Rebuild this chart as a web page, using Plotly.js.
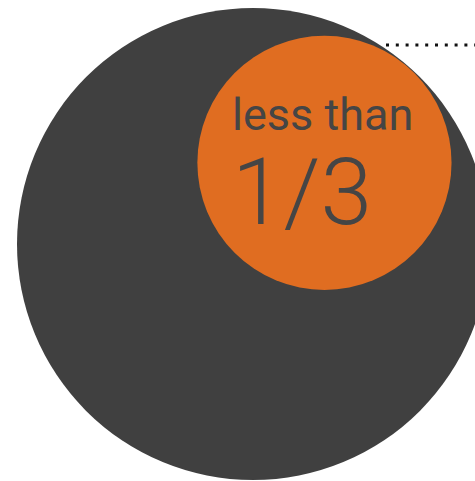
<!DOCTYPE html>
<html>
<head>
<meta charset="utf-8">
<script src="https://cdn.plot.ly/plotly-3.0.1.min.js"></script>
<style>
  html, body { margin: 0; padding: 0; background: #ffffff; }
  #chart { width: 475px; height: 481px; }
</style>
</head>
<body>
<div id="chart"></div>
<script>
// Share of the whole represented by each circle (areas)
const groups = ["All", "Share"];
const areaShares = [1.0, 0.29];
const labelTop = "less than";
const labelValue = "1/3";

// Layout geometry (in plot units = pixels)
const W = 475, H = 481;
const bigCenter = { x: 253, y: 244 };
const bigRadius = 236;
const tangentAngleDeg = 49;       // direction of the inner circle from the big centre
const leaderY = 45;
const leaderX0 = 386;

const colors = { whole: "#404040", part: "#E06D21", text: "#454545", leader: "#111111" };

// Radii scale with the square root of the area share
const radii = areaShares.map(a => bigRadius * Math.sqrt(a / areaShares[0]));
const rSmall = radii[1];
const ang = tangentAngleDeg * Math.PI / 180;
const smallCenter = {
  x: bigCenter.x + (radii[0] - rSmall) * Math.cos(ang),
  y: bigCenter.y - (radii[0] - rSmall) * Math.sin(ang) + 1
};

const circleShape = (c, r, fill) => ({
  type: "circle", xref: "x", yref: "y",
  x0: c.x - r, x1: c.x + r, y0: c.y - r, y1: c.y + r,
  fillcolor: fill, line: { width: 0 }, layer: "below"
});

const shapes = [
  circleShape(bigCenter, radii[0], colors.whole),
  circleShape(smallCenter, rSmall, colors.part),
  {
    type: "line", xref: "x", yref: "y",
    x0: leaderX0, x1: W + 5, y0: leaderY, y1: leaderY,
    line: { color: colors.leader, width: 3, dash: "3px,6.8px" }
  }
];

const textX = 230;
const annotations = [
  {
    x: textX, y: 114, xref: "x", yref: "y", xanchor: "left", yanchor: "middle",
    text: labelTop, showarrow: false,
    font: { family: "Roboto, sans-serif", size: 45, weight: 400, color: colors.text }
  },
  {
    x: textX, y: 192, xref: "x", yref: "y", xanchor: "left", yanchor: "middle",
    text: labelValue, showarrow: false,
    font: { family: "Roboto, sans-serif", size: 93, weight: 300, color: colors.text }
  }
];

const layout = {
  width: W, height: H,
  margin: { l: 0, r: 0, t: 0, b: 0 },
  paper_bgcolor: "#ffffff", plot_bgcolor: "#ffffff",
  xaxis: { range: [0, W], visible: false, fixedrange: true },
  yaxis: { range: [H, 0], visible: false, fixedrange: true },
  showlegend: false,
  shapes: shapes,
  annotations: annotations
};

// invisible trace so the axes exist
const data = [{ x: [], y: [], type: "scatter", mode: "markers", name: groups.join("/"), hoverinfo: "skip" }];

Plotly.newPlot("chart", data, layout, { displayModeBar: false, staticPlot: true });
</script>
</body>
</html>
